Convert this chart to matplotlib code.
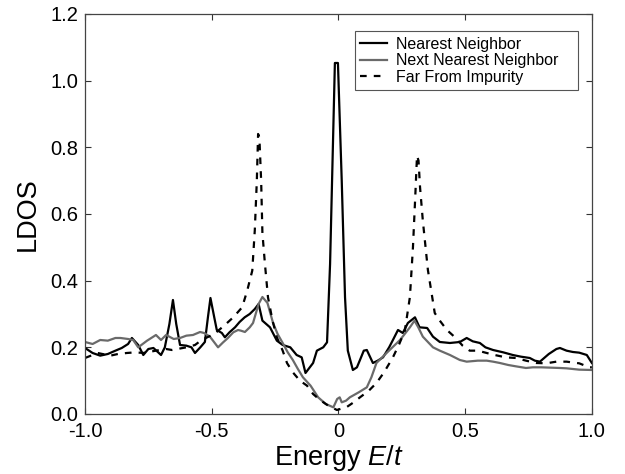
import matplotlib
matplotlib.use('Agg')
import matplotlib.pyplot as plt

# data
# Nearest Neighbor
nn_x = [-1.0, -0.97, -0.94, -0.91, -0.88, -0.855, -0.83, -0.815, -0.79, -0.77, -0.75, -0.73,
        -0.70, -0.685, -0.667, -0.653, -0.64, -0.625, -0.60, -0.58, -0.566, -0.545, -0.527,
        -0.515, -0.505, -0.49, -0.48, -0.46, -0.448, -0.43, -0.408, -0.39, -0.37, -0.35,
        -0.33, -0.315, -0.30, -0.27, -0.243, -0.22, -0.19, -0.165, -0.145, -0.13, -0.10,
        -0.085, -0.06, -0.045, -0.033, -0.014, -0.002, 0.013, 0.026, 0.037, 0.057, 0.073,
        0.085, 0.10, 0.112, 0.136, 0.155, 0.176, 0.20, 0.215, 0.235, 0.254, 0.274, 0.302,
        0.32, 0.35, 0.373, 0.40, 0.44, 0.479, 0.506, 0.53, 0.558, 0.58, 0.61, 0.65, 0.688,
        0.72, 0.755, 0.775, 0.795, 0.83, 0.86, 0.874, 0.90, 0.925, 0.95, 0.98, 1.0]
nn_y = [0.198, 0.183, 0.175, 0.18, 0.19, 0.198, 0.21, 0.228, 0.207, 0.177, 0.195, 0.198,
        0.177, 0.2, 0.27, 0.342, 0.27, 0.207, 0.205, 0.2, 0.183, 0.2, 0.216,
        0.29, 0.348, 0.29, 0.252, 0.243, 0.23, 0.245, 0.26, 0.276, 0.29, 0.3,
        0.315, 0.33, 0.28, 0.26, 0.22, 0.207, 0.2, 0.177, 0.17, 0.123, 0.153,
        0.19, 0.2, 0.215, 0.45, 1.053, 1.053, 0.7, 0.35, 0.19, 0.132, 0.14,
        0.162, 0.19, 0.192, 0.153, 0.16, 0.17, 0.2, 0.222, 0.252, 0.243, 0.273, 0.29,
        0.26, 0.258, 0.232, 0.216, 0.213, 0.216, 0.228, 0.218, 0.213, 0.2, 0.192, 0.185, 0.177,
        0.172, 0.168, 0.16, 0.157, 0.18, 0.195, 0.198, 0.19, 0.186, 0.184, 0.177, 0.153]

# Next Nearest Neighbor
nnn_x = [-1.0, -0.97, -0.94, -0.91, -0.88, -0.86, -0.83, -0.81, -0.79, -0.755, -0.72, -0.70,
         -0.68, -0.65, -0.625, -0.60, -0.574, -0.546, -0.53, -0.507, -0.475, -0.455, -0.436,
         -0.415, -0.396, -0.385, -0.369, -0.35, -0.337, -0.315, -0.30, -0.28, -0.258, -0.24,
         -0.22, -0.20, -0.18, -0.16, -0.14, -0.11, -0.08, -0.05, -0.02, -0.005, 0.005, 0.013,
         0.03, 0.045, 0.08, 0.112, 0.13, 0.15, 0.19, 0.243, 0.282, 0.30, 0.315, 0.333, 0.373,
         0.40, 0.44, 0.479, 0.506, 0.55, 0.585, 0.61, 0.637, 0.67, 0.70, 0.74, 0.767, 0.80,
         0.874, 0.90, 0.95, 1.0]
nnn_y = [0.216, 0.21, 0.222, 0.22, 0.228, 0.228, 0.225, 0.222, 0.2, 0.22, 0.237, 0.222,
         0.237, 0.225, 0.228, 0.235, 0.237, 0.246, 0.243, 0.232, 0.2, 0.215, 0.228,
         0.245, 0.252, 0.25, 0.246, 0.26, 0.273, 0.33, 0.351, 0.333, 0.273, 0.24,
         0.213, 0.185, 0.162, 0.135, 0.11, 0.085, 0.05, 0.03, 0.02, 0.045, 0.05, 0.035,
         0.04, 0.05, 0.065, 0.08, 0.11, 0.153, 0.183, 0.222, 0.26, 0.28, 0.26, 0.232, 0.2,
         0.19, 0.177, 0.162, 0.157, 0.16, 0.16, 0.157, 0.153, 0.147, 0.143, 0.138, 0.14, 0.14,
         0.138, 0.137, 0.133, 0.132]

# Far From Impurity
far_x = [-1.0, -0.97, -0.95, -0.9, -0.87, -0.835, -0.8, -0.77, -0.72, -0.68, -0.657, -0.6,
         -0.566, -0.54, -0.49, -0.448, -0.415, -0.38, -0.36, -0.34, -0.33, -0.322, -0.317,
         -0.312, -0.305, -0.30, -0.29, -0.278, -0.26, -0.243, -0.22, -0.203, -0.18, -0.152,
         -0.124, -0.10, -0.073, -0.04, -0.006, 0.033, 0.06, 0.085, 0.12, 0.15, 0.18, 0.215,
         0.24, 0.262, 0.282, 0.294, 0.303, 0.31, 0.316, 0.322, 0.333, 0.353, 0.38, 0.40,
         0.428, 0.46, 0.49, 0.518, 0.55, 0.57, 0.61, 0.66, 0.70, 0.74, 0.78, 0.82, 0.86,
         0.90, 0.95, 0.99, 1.0]
far_y = [0.168, 0.177, 0.183, 0.175, 0.18, 0.183, 0.185, 0.183, 0.19, 0.195, 0.192, 0.2,
         0.207, 0.222, 0.24, 0.267, 0.29, 0.32, 0.37, 0.43, 0.552, 0.7, 0.84,
         0.83, 0.7, 0.543, 0.45, 0.35, 0.28, 0.23, 0.19, 0.153, 0.125, 0.1,
         0.085, 0.06, 0.042, 0.025, 0.012, 0.021, 0.035, 0.05, 0.07, 0.093, 0.125, 0.17,
         0.21, 0.25, 0.351, 0.5, 0.65, 0.775, 0.76, 0.68, 0.58, 0.432, 0.303, 0.28,
         0.252, 0.23, 0.205, 0.19, 0.19, 0.186, 0.178, 0.17, 0.168, 0.16, 0.153, 0.152, 0.157,
         0.157, 0.152, 0.14, 0.14]

x_ticks = [-1.0, -0.5, 0, 0.5, 1.0]
x_labels = ['-1.0', '-0.5', '0', '0.5', '1.0']
y_ticks = [0.0, 0.2, 0.4, 0.6, 0.8, 1.0, 1.2]
y_labels = ['0.0', '0.2', '0.4', '0.6', '0.8', '1.0', '1.2']

plt.rcParams['font.family'] = ['Liberation Sans', 'DejaVu Sans']
plt.rcParams['mathtext.fontset'] = 'custom'
plt.rcParams['mathtext.rm'] = 'Liberation Sans'
plt.rcParams['mathtext.it'] = 'Liberation Sans:italic'

fig = plt.figure(figsize=(6.25, 4.74), dpi=100)
ax = fig.add_axes([0.136, 0.1266, 0.811, 0.8439])

# trailing spaces give the legend box its wide right margin
ax.plot(nn_x, nn_y, color='black', lw=1.6, label='Nearest Neighbor   ')
ax.plot(nnn_x, nnn_y, color='#6a6a6a', lw=1.6, label='Next Nearest Neighbor   ')
ax.plot(far_x, far_y, color='black', lw=1.6, dashes=(3, 3.2), label='Far From Impurity   ')

ax.set_xlim(-1.0, 1.0)
ax.set_ylim(0.0, 1.2)
ax.set_xticks(x_ticks)
ax.set_xticklabels(x_labels)
ax.set_yticks(y_ticks)
ax.set_yticklabels(y_labels)
ax.tick_params(direction='in', length=4, width=0.8, top=True, right=True,
               labelsize=14.5, colors='#333333', labelcolor='black')
ax.tick_params(axis='x', pad=6)
ax.tick_params(axis='y', pad=5)
for s in ax.spines.values():
    s.set_color('#444444')
    s.set_linewidth(0.9)

ax.set_xlabel('Energy $E/t$', fontsize=19.5, labelpad=1)
ax.set_ylabel('LDOS', fontsize=19.5, labelpad=7)

leg = ax.legend(loc='upper right', fontsize=11.5, fancybox=False, framealpha=1,
                edgecolor='#555555', handlelength=1.7, borderpad=0.35,
                labelspacing=0.1, handletextpad=0.55, borderaxespad=0.0,
                bbox_to_anchor=(0.972, 0.9575))
leg.get_frame().set_linewidth(0.8)

fig.savefig('out.png', dpi=100)
